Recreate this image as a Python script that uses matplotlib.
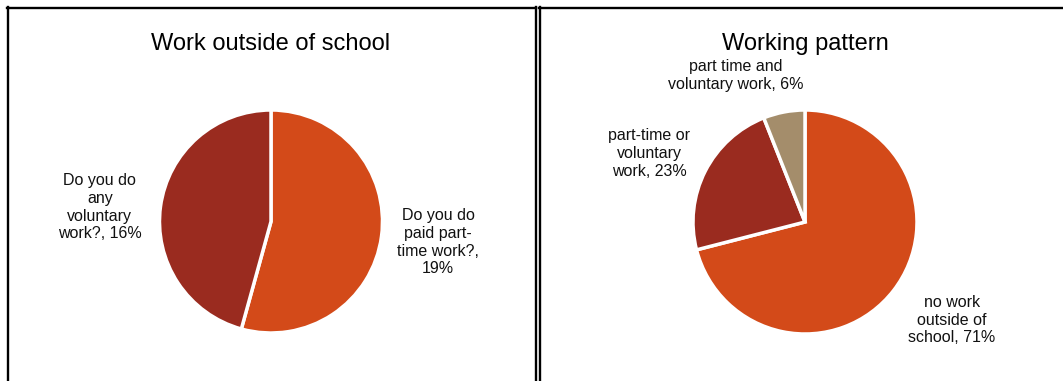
import numpy as np
import matplotlib.pyplot as plt
from matplotlib.lines import Line2D

plt.rcParams['font.family'] = ['Liberation Sans', 'DejaVu Sans']

# ---------------- data ----------------
left_title = "Work outside of school"
left_labels = ["Do you do\npaid part-\ntime work?,\n19%", "Do you do\nany\nvoluntary\nwork?, 16%"]
left_values = [19, 16]

right_title = "Working pattern"
right_labels = ["no work\noutside of\nschool, 71%", "part-time or\nvoluntary\nwork, 23%",
                "part time and\nvoluntary work, 6%"]
right_values = [71, 23, 6]

orange = "#D34A19"
dark_red = "#9A2B1F"
tan = "#A48D6B"

W, H = 1063, 381
fig = plt.figure(figsize=(W / 100, H / 100), dpi=100)


def px_axes(cx, cy, r):
    # square axes in pixel coords, y measured from top
    return fig.add_axes([(cx - r) / W, 1 - (cy + r) / H, 2 * r / W, 2 * r / H])


def draw_pie(cx, cy, r, values, labels, colors, title, label_off):
    ax = px_axes(cx, cy, r)
    wedges, _ = ax.pie(values, colors=colors, startangle=90, counterclock=False,
                       wedgeprops=dict(edgecolor="white", linewidth=2.5))
    ax.set_xlim(-1, 1)
    ax.set_ylim(-1, 1)
    ax.set_aspect("equal")
    ax.axis("off")
    for w, lab, (dang, dist) in zip(wedges, labels, label_off):
        ang = np.deg2rad((w.theta1 + w.theta2) / 2 + dang)
        ax.text(dist * np.cos(ang), dist * np.sin(ang), lab, ha="center", va="center",
                fontsize=11.5, color="#111111", clip_on=False, linespacing=1.24)
    fig.text(cx / W, 1 - 44 / H, title, ha="center", va="center", fontsize=17)


draw_pie(271, 221.5, 111.5, left_values, left_labels, [orange, dark_red], left_title,
         [(0.7, 1.51), (2.9, 1.54)])
draw_pie(805, 222, 112, right_values, right_labels, [orange, dark_red, tan], right_title,
         [(4.1, 1.578), (3.3, 1.52), (14.6, 1.447)])

# panel borders
def hline(x0, x1, y):
    fig.add_artist(Line2D([x0 / W, x1 / W], [1 - y / H, 1 - y / H], color="black", lw=1.7))


def vline(x, y0, y1):
    fig.add_artist(Line2D([x / W, x / W], [1 - y0 / H, 1 - y1 / H], color="black", lw=1.7))


hline(7, 536, 7.5)
hline(538.5, W, 7.5)
vline(7.5, 7, H)
vline(535.5, 7, H)
vline(539.5, 7, H)

fig.savefig("out.png", dpi=100)
